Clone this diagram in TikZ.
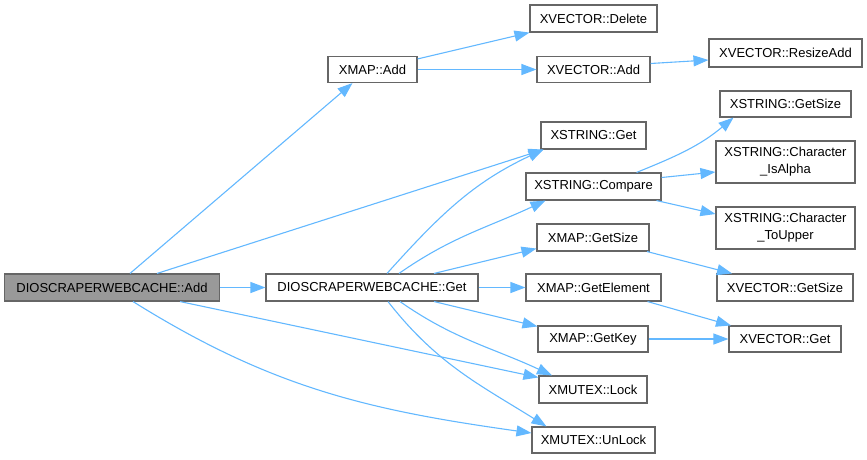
\documentclass[tikz,border=0pt]{standalone}
\usepackage{fontspec}
\setmainfont{Liberation Sans}
\usetikzlibrary{positioning,arrows.meta}
\definecolor{CallBlue}{RGB}{99,184,255}
\definecolor{BoxGray}{RGB}{102,102,102}
\definecolor{MainFill}{RGB}{153,153,153}
\tikzset{
  fn/.style={draw=BoxGray,fill=white,line width=1.1pt,inner sep=0pt,minimum height=27pt,
    font=\fontsize{13}{17}\selectfont,align=center},
  mainfn/.style={fn,fill=MainFill},
  twoline/.style={fn,minimum height=42pt},
  call/.style={draw=CallBlue,line width=1.1pt,-{Triangle[length=15pt,width=11pt]}},
}

\begin{document}
\begin{tikzpicture}[x=1pt,y=-1pt]
\useasboundingbox (0,0) rectangle (867,459);
% callers
\node[mainfn,minimum width=215pt] (add) at (112,287.5) {DIOSCRAPERWEBCACHE::Add};
\node[fn,minimum width=212pt] (get) at (372,287.5) {DIOSCRAPERWEBCACHE::Get};
\node[fn,minimum width=89pt,minimum height=26pt] (xmapadd) at (372.5,69.5) {XMAP::Add};
% middle column
\node[fn,minimum width=127pt] (vdel) at (593.5,18.5) {XVECTOR::Delete};
\node[fn,minimum width=113pt,minimum height=26pt] (vadd) at (593.5,69.5) {XVECTOR::Add};
\node[fn,minimum width=105pt] (sget) at (593.5,135.5) {XSTRING::Get};
\node[fn,minimum width=135pt] (scompare) at (593.5,186.5) {XSTRING::Compare};
\node[fn,minimum width=112pt] (mgetsize) at (593,237.5) {XMAP::GetSize};
\node[fn,minimum width=135pt] (mgetelem) at (593.5,287.5) {XMAP::GetElement};
\node[fn,minimum width=110pt,minimum height=26pt] (mgetkey) at (593,339) {XMAP::GetKey};
\node[fn,minimum width=108pt] (lock) at (593,389.5) {XMUTEX::Lock};
\node[fn,minimum width=123pt,minimum height=26pt] (unlock) at (593.5,440) {XMUTEX::UnLock};
% right column
\node[fn,minimum width=153pt,minimum height=28pt] (vresize) at (785.5,53) {XVECTOR::ResizeAdd};
\node[fn,minimum width=131pt,minimum height=26pt] (sgetsize) at (785.5,104) {XSTRING::GetSize};
\node[twoline,minimum width=139pt] (salpha) at (785.5,162) {XSTRING::Character\\\_IsAlpha};
\node[twoline,minimum width=139pt] (supper) at (785.5,228) {XSTRING::Character\\\_ToUpper};
\node[fn,minimum width=136pt] (vgetsize) at (785,287.5) {XVECTOR::GetSize};
\node[fn,minimum width=112pt,minimum height=26pt] (vget) at (785,339) {XVECTOR::Get};
% calls from DIOSCRAPERWEBCACHE::Add
\draw[call] ([xshift=18pt]add.north) -- ([xshift=-20pt]xmapadd.south);
\draw[call] ([xshift=45pt]add.north) -- ([xshift=-50pt]sget.south);
\draw[call] (add.east) -- (get.west);
\draw[call] ([xshift=68pt]add.south) -- ([yshift=-2pt]lock.north west);
\draw[call] ([xshift=21pt]add.south) to[out=-32,in=172] ([yshift=7pt]unlock.west);
% calls from XMAP::Add
\draw[call] ([yshift=-3pt]xmapadd.north east) -- (vdel.south west);
\draw[call] (xmapadd.east) -- (vadd.west);
\draw[call] ([yshift=6pt]vadd.east) -- ([yshift=-7pt]vresize.west);
% calls from DIOSCRAPERWEBCACHE::Get
\draw[call] ([xshift=15pt]get.north) to[out=48,in=205] ([xshift=-50pt]sget.south);
\draw[call] ([xshift=27pt]get.north) to[out=35,in=205] ([xshift=-48pt]scompare.south);
\draw[call] ([xshift=62pt]get.north) -- ([yshift=3pt]mgetsize.south west);
\draw[call] (get.east) -- (mgetelem.west);
\draw[call] ([xshift=62pt]get.south) -- ([yshift=-1pt]mgetkey.north west);
\draw[call] ([xshift=28pt]get.south) to[out=-35,in=155] ([xshift=-41pt]lock.north);
\draw[call] ([xshift=16pt]get.south) to[out=-52,in=148] ([xshift=-47pt]unlock.north);
% calls from XSTRING::Compare
\draw[call] ([xshift=43pt]scompare.north) to[out=22,in=220] ([xshift=-52pt]sgetsize.south);
\draw[call] ([yshift=9pt]scompare.east) -- ([yshift=-10pt]salpha.west);
\draw[call] ([xshift=63pt]scompare.south) -- ([yshift=14pt]supper.west);
% calls from XMAP
\draw[call] ([xshift=54pt]mgetsize.south) -- ([xshift=-53pt]vgetsize.north);
\draw[call] ([xshift=54pt]mgetelem.south) -- ([xshift=-54pt]vget.north);
\draw[call] (mgetkey.east) -- (vget.west);
\end{tikzpicture}
\end{document}
